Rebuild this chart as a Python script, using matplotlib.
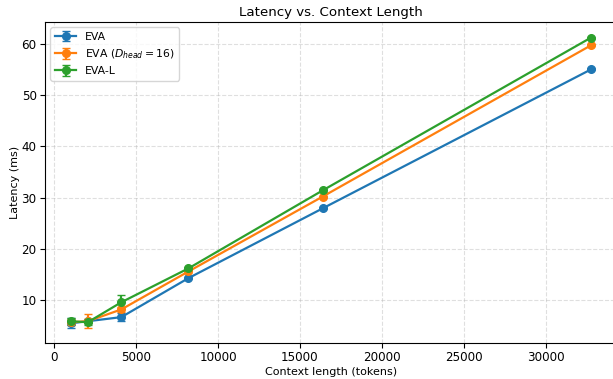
import matplotlib
matplotlib.use("Agg")
import matplotlib.pyplot as plt
import numpy as np

context_lengths = [1024, 2048, 4096, 8192, 16384, 32768]

eva_latency = [5.5, 5.9, 6.7, 14.3, 27.9, 55.0]
eva_err = [1.0, 0.4, 0.8, 0.2, 0.2, 0.2]

eva_d16_latency = [5.7, 5.9, 8.2, 15.6, 30.2, 59.7]
eva_d16_err = [0.6, 1.4, 0.5, 0.2, 0.2, 0.2]

eva_l_latency = [5.9, 5.7, 9.6, 16.2, 31.4, 61.2]
eva_l_err = [0.7, 0.6, 1.4, 0.3, 0.3, 0.2]

labels = ["EVA", r"EVA ($D_{head}=16$)", "EVA-L"]

fig = plt.figure(figsize=(6.13, 3.79), dpi=100)
ax = fig.add_axes([45/613, 36/379, 572/613, 321/379])

for y, e, lab in [(eva_latency, eva_err, labels[0]),
                  (eva_d16_latency, eva_d16_err, labels[1]),
                  (eva_l_latency, eva_l_err, labels[2])]:
    ax.errorbar(context_lengths, y, yerr=e, marker='o', markersize=5.5,
                linewidth=1.6, capsize=3, label=lab)

ax.set_title("Latency vs. Context Length", fontsize=9.6, pad=4)
ax.set_xlabel("Context length (tokens)", fontsize=8, labelpad=2)
ax.set_ylabel("Latency (ms)", fontsize=8, labelpad=1)
ax.tick_params(labelsize=8.6, pad=2.5)
ax.grid(True, linestyle='--', alpha=0.4)
ax.legend(loc='upper left', fontsize=7.8)

fig.savefig("out.png", dpi=100)
